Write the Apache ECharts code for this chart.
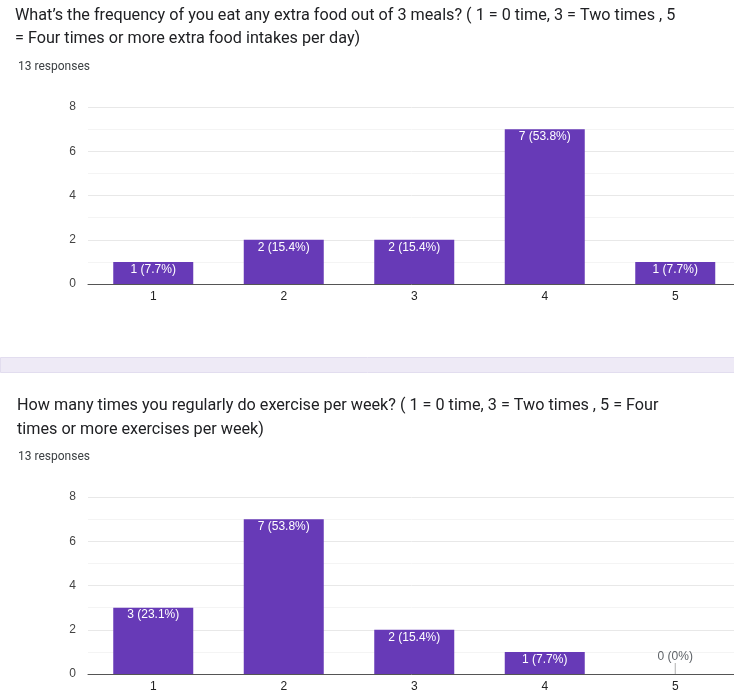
<!DOCTYPE html>
<html>
<head>
<meta charset="utf-8">
<script src="https://cdn.jsdelivr.net/npm/echarts@6/dist/echarts.min.js"></script>
<style>
  html, body { margin: 0; padding: 0; background: #fff; }
  #chart { width: 734px; height: 695px; }
</style>
</head>
<body>
<div id="chart"></div>
<script>
// Survey answers on a 1–5 scale
const categories = ['1', '2', '3', '4', '5'];
const extraFoodCounts = [1, 2, 2, 7, 1];
const exerciseCounts = [3, 7, 2, 1, 0];
const totalResponses = 13;
const yTicks = [0, 2, 4, 6, 8];

const foodQuestion = "What\u2019s the frequency of you eat any extra food out of 3 meals? ( 1 = 0 time, 3 = Two times , 5\n= Four times or more extra food intakes per day)";
const exerciseQuestion = "How many times you regularly do exercise per week? ( 1 = 0 time, 3 = Two times , 5 = Four\ntimes or more exercises per week)";
const responsesText = totalResponses + ' responses';

const PURPLE = '#673ab7';
const FONT = 'Roboto, Arial, sans-serif';
const AXIS_FONT = 'Arial, "Liberation Sans", sans-serif';

function pct(v) {
  return parseFloat((v / totalResponses * 100).toFixed(1));
}

function barData(values) {
  return values.map(v => {
    const item = { value: v };
    if (v === 0) {
      item.label = { position: 'top', distance: 11, color: '#5f6368' };
    }
    return item;
  });
}

function tickData(values) {
  return values.map(v => (v === 0 ? 0 : '-'));
}

function makeX(gridIndex) {
  return {
    type: 'category', gridIndex, data: categories,
    axisLine: { show: true, lineStyle: { color: '#555', width: 1 } },
    axisTick: { show: false },
    axisLabel: { color: '#222', fontSize: 12, fontFamily: AXIS_FONT, margin: 7 }
  };
}

function makeY(gridIndex) {
  return {
    type: 'value', gridIndex,
    min: yTicks[0], max: yTicks[yTicks.length - 1], interval: 2,
    axisLine: { show: false }, axisTick: { show: false },
    axisLabel: { color: '#444', fontSize: 12, fontFamily: AXIS_FONT, margin: 12 },
    splitLine: { show: true, lineStyle: { color: '#e8e8e8', width: 1 } },
    minorTick: { show: false, splitNumber: 2 },
    minorSplitLine: { show: true, lineStyle: { color: '#f4f4f4', width: 1 } }
  };
}

function makeBars(values, idx) {
  return {
    type: 'bar', xAxisIndex: idx, yAxisIndex: idx,
    data: barData(values),
    barWidth: 80,
    itemStyle: { color: PURPLE },
    label: {
      show: true, position: 'insideTop', distance: 1.5,
      color: '#fff', fontSize: 12, fontFamily: AXIS_FONT,
      formatter: p => p.value + ' (' + pct(p.value) + '%)'
    },
    silent: true
  };
}

function makeZeroTicks(values, idx) {
  return {
    type: 'scatter', xAxisIndex: idx, yAxisIndex: idx,
    data: tickData(values),
    symbol: 'rect', symbolSize: [1, 11], symbolOffset: [0, -5.5],
    itemStyle: { color: '#9e9e9e' },
    silent: true, z: 3
  };
}

const chart = echarts.init(document.getElementById('chart'), null, { renderer: 'canvas' });

chart.setOption({
  animation: false,
  backgroundColor: '#fff',
  title: [
    { text: foodQuestion, left: 10, top: -1,
      textStyle: { fontFamily: FONT, fontSize: 16.2, fontWeight: 'normal', color: '#202124', lineHeight: 23 } },
    { text: responsesText, left: 13, top: 56,
      textStyle: { fontFamily: FONT, fontSize: 12, fontWeight: 'normal', color: '#3c4043' } },
    { text: exerciseQuestion, left: 12, top: 389,
      textStyle: { fontFamily: FONT, fontSize: 16.2, fontWeight: 'normal', color: '#202124', lineHeight: 24 } },
    { text: responsesText, left: 13, top: 446,
      textStyle: { fontFamily: FONT, fontSize: 12, fontWeight: 'normal', color: '#3c4043' } }
  ],
  graphic: [
    { type: 'rect', left: 0, top: 357, shape: { width: 734, height: 15 },
      style: { fill: '#eeeaf6', stroke: '#e2ddef', lineWidth: 1 }, silent: true }
  ],
  grid: [
    { left: 88, top: 107, width: 652.5, height: 177, containLabel: false, outerBoundsMode: 'none' },
    { left: 88, top: 497, width: 652.5, height: 177, containLabel: false, outerBoundsMode: 'none' }
  ],
  xAxis: [makeX(0), makeX(1)],
  yAxis: [makeY(0), makeY(1)],
  series: [
    makeBars(extraFoodCounts, 0),
    makeBars(exerciseCounts, 1),
    makeZeroTicks(exerciseCounts, 1)
  ]
});
</script>
</body>
</html>
